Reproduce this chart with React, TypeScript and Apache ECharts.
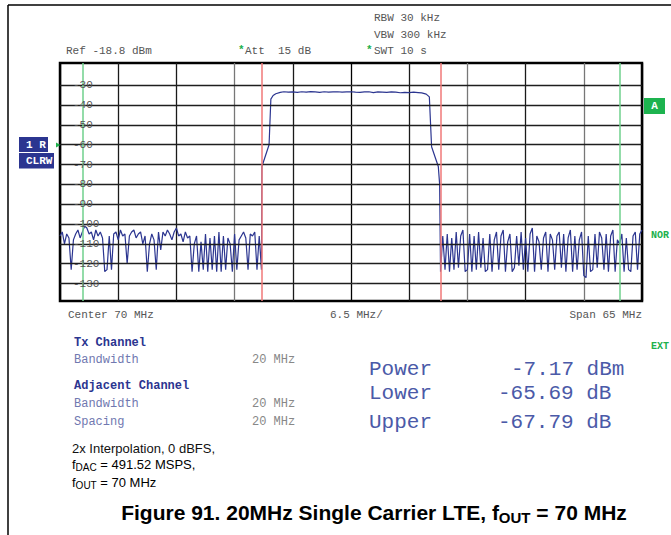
import React, { useEffect, useRef } from "react";
import * as echarts from "echarts";

// ---- axes ----
const FREQ_MIN = -32.5; // MHz offset from 70 MHz centre
const FREQ_MAX = 32.5;
const FREQ_DIV = 6.5;
const REF_LEVEL = -18.8;
const BOTTOM_LEVEL = -138.8;
const dbTicks = [-30, -40, -50, -60, -70, -80, -90, -100, -110, -120, -130];
const channelEdges = [-10, 10];
const adjacentEdges = [-30, 30];

// ---- trace ----
const noiseStep = 0.25;
const noiseLeftStart = -32.5;
const noiseLeft = [
  -106, -104, -110, -105, -107, -123, -108, -105, -103, -107, -104, -101, -102, -105, -104, -108,
  -103, -106, -104, -107, -124, -123, -106, -123, -105, -104, -108, -103, -106, -105, -120, -106,
  -104, -103, -107, -105, -104, -110, -106, -124, -110, -105, -108, -123, -104, -113, -104, -106,
  -103, -105, -108, -104, -102, -106, -105, -109, -104, -107, -106, -124, -110, -106, -124, -109,
  -123, -105, -124, -107, -123, -106, -124, -104, -124, -106, -123, -107, -110, -124, -105, -123,
  -108, -106, -104, -107, -123, -105, -106, -104, -123, -106, -123,
];
const riseLeft = [
  [-9.95, -71], [-9.15, -60], [-8.95, -37], [-8.7, -35.2], [-8.4, -34.3], [-7.9, -33.6],
];
const carrierStart = -7.5;
const carrierStep = 0.5;
const carrierTop = [
  -33.3, -33.5, -33.4, -33.6, -33.3, -33.5, -33.2, -33.4, -33.6, -33.3, -33.5, -33.4, -33.3, -33.5,
  -33.4, -33.3, -33.5, -33.6, -33.4, -33.3, -33.7, -33.4, -33.5, -33.6, -33.4, -33.5, -33.8, -33.6,
  -33.7, -33.5, -33.7,
];
const fallRight = [
  [7.9, -33.9], [8.4, -34.5], [8.75, -35.9], [9.0, -61], [9.75, -71], [9.9, -80],
];
const noiseRightStart = 10;
const noiseRight = [
  -124, -106, -123, -105, -124, -107, -123, -104, -122, -106, -103, -124, -123, -105, -124, -106,
  -123, -104, -122, -107, -124, -123, -105, -124, -108, -104, -123, -106, -103, -124, -109, -105,
  -124, -122, -106, -121, -104, -123, -107, -124, -105, -102, -124, -106, -109, -123, -107, -104,
  -124, -105, -108, -123, -106, -104, -122, -105, -124, -107, -103, -124, -106, -123, -108, -104,
  -126, -127, -106, -124, -123, -105, -122, -104, -107, -123, -105, -124, -106, -103, -124, -108,
  -110, -105, -124, -107, -123, -124, -106, -104, -123, -105, -103,
];

// ---- texts ----
const headerLeft = "Ref -18.8 dBm";
const headerAtt = "Att  15 dB";
const headerSwt = "SWT 10 s";
const headerRbw = "RBW 30 kHz";
const headerVbw = "VBW 300 kHz";
const footCenter = "Center 70 MHz";
const footDiv = "6.5 MHz/";
const footSpan = "Span 65 MHz";
const resultNames = ["Power", "Lower", "Upper"];
const resultValues = ["-7.17 dBm", "-65.69 dB", "-67.79 dB"];

function buildTrace(): number[][] {
  const pts: number[][] = [];
  noiseLeft.forEach((v, i) => pts.push([noiseLeftStart + i * noiseStep, v]));
  riseLeft.forEach((p) => pts.push(p));
  carrierTop.forEach((v, i) => pts.push([carrierStart + i * carrierStep, v]));
  fallRight.forEach((p) => pts.push(p));
  noiseRight.forEach((v, i) => pts.push([noiseRightStart + i * noiseStep, v]));
  return pts;
}

const MONO = '"Liberation Mono", "DejaVu Sans Mono", monospace';
const SANS = '"Liberation Sans", Arial, sans-serif';

function txt(x: number, y: number, text: string, opts: any = {}) {
  const align = opts.align || "left";
  return {
    type: "text",
    silent: true,
    z: 100,
    style: {
      x,
      y,
      text,
      fill: opts.fill || "#555",
      fontSize: opts.fontSize || 11,
      fontFamily: opts.fontFamily || MONO,
      fontWeight: opts.fontWeight || "normal",
      align,
      textAlign: align,
      verticalAlign: "middle",
      textVerticalAlign: "middle",
      ...(opts.extra || {}),
    },
  };
}

export default function App() {
  const ref = useRef<HTMLDivElement>(null);
  useEffect(() => {
    if (!ref.current) return;
    const chart = echarts.init(ref.current, undefined, { renderer: "svg" });

    const navy = "#2b3590";
    const green = "#20b04c";
    const subRich = (size: number, sub: number, pad: number, weight: string, lh: number) => ({
      a: { fontSize: size, fontFamily: SANS, fontWeight: weight, fill: "#000", lineHeight: lh },
      s: { fontSize: sub, fontFamily: SANS, fontWeight: weight, fill: "#000", padding: [pad, 0, 0, 0] },
    });
    const graphics: any[] = [
      { type: "line", silent: true, shape: { x1: 8, y1: 5, x2: 671, y2: 5 }, style: { stroke: "#000", lineWidth: 1.5 } },
      { type: "line", silent: true, shape: { x1: 8, y1: 5, x2: 8, y2: 535 }, style: { stroke: "#000", lineWidth: 1.5 } },
      txt(374, 18, headerRbw),
      txt(374, 35, headerVbw),
      txt(66, 51, headerLeft),
      txt(238, 50, "*", { fill: green, fontWeight: "bold" }),
      txt(245, 51, headerAtt),
      txt(366, 50, "*", { fill: green, fontWeight: "bold" }),
      txt(374, 51, headerSwt),
      txt(68, 315, footCenter),
      txt(330, 315, footDiv),
      txt(642, 315, footSpan, { align: "right" }),
      // left trace labels
      { type: "rect", silent: true, shape: { x: 19, y: 137, width: 29, height: 15 }, style: { fill: navy } },
      txt(26, 144.5, "1 RM", { fill: "#fff", fontWeight: "bold", extra: { width: 21, overflow: "truncate", ellipsis: "" } }),
      { type: "rect", silent: true, shape: { x: 19, y: 153, width: 35, height: 15.5 }, style: { fill: navy } },
      txt(26, 161, "CLRWR", { fill: "#fff", fontWeight: "bold", extra: { width: 28, overflow: "truncate", ellipsis: "" } }),
      { type: "polygon", silent: true, shape: { points: [[56, 142.5], [56, 147.5], [60.5, 145]] }, style: { fill: green } },
      // right labels
      { type: "rect", silent: true, shape: { x: 644, y: 98, width: 21, height: 16 }, style: { fill: "#1db34f" } },
      txt(654.5, 106, "A", { fill: "#fff", fontWeight: "bold", align: "center" }),
      txt(651, 235, "NOR", { fill: green, fontWeight: "bold", fontSize: 10 }),
      txt(651, 346, "EXT", { fill: green, fontWeight: "bold", fontSize: 10 }),
      // channel block
      txt(74, 343, "Tx Channel", { fill: navy, fontWeight: "bold", fontSize: 12 }),
      txt(74, 360, "Bandwidth", { fill: "#7078b0", fontSize: 12 }),
      txt(252, 360, "20 MHz", { fill: "#888", fontSize: 12 }),
      txt(74, 386, "Adjacent Channel", { fill: navy, fontWeight: "bold", fontSize: 12 }),
      txt(74, 404, "Bandwidth", { fill: "#7078b0", fontSize: 12 }),
      txt(252, 404, "20 MHz", { fill: "#888", fontSize: 12 }),
      txt(74, 422, "Spacing", { fill: "#7078b0", fontSize: 12 }),
      txt(252, 422, "20 MHz", { fill: "#888", fontSize: 12 }),
      // results
      txt(369, 369, resultNames[0], { fill: "#4b5aa8", fontSize: 21 }),
      txt(511, 369, resultValues[0], { fill: "#4b5aa8", fontSize: 21 }),
      txt(369, 393, resultNames[1], { fill: "#4b5aa8", fontSize: 21 }),
      txt(498, 393, resultValues[1], { fill: "#4b5aa8", fontSize: 21 }),
      txt(369, 422, resultNames[2], { fill: "#4b5aa8", fontSize: 21 }),
      txt(498, 422, resultValues[2], { fill: "#4b5aa8", fontSize: 21 }),
      // footnote
      txt(72, 448, "2x Interpolation, 0 dBFS,", { fill: "#111", fontFamily: SANS, fontSize: 13 }),
      txt(72, 464, "{a|f}{s|DAC}{a| = 491.52 MSPS,}", {
        fill: "#111", fontFamily: SANS, fontSize: 13,
        extra: { rich: subRich(13, 10, 7, "normal", 16) },
      }),
      txt(72, 482, "{a|f}{s|OUT}{a| = 70 MHz}", {
        fill: "#111", fontFamily: SANS, fontSize: 13,
        extra: { rich: subRich(13, 10, 7, "normal", 16) },
      }),
      // title
      txt(374, 512, "{a|Figure 91. 20MHz Single Carrier LTE, f}{s|OUT}{a| = 70 MHz}", {
        fill: "#000", fontFamily: SANS, fontSize: 21, fontWeight: "bold", align: "center",
        extra: { rich: subRich(21, 15, 10, "bold", 25) },
      }),
    ];

    chart.setOption({
      animation: false,
      backgroundColor: "#fff",
      grid: {
        left: 60,
        top: 63,
        width: 582,
        height: 238,
        show: true,
        borderColor: "#000",
        borderWidth: 2.5,
        backgroundColor: "transparent",
        outerBoundsMode: "none",
        containLabel: false,
      },
      xAxis: {
        type: "value",
        min: FREQ_MIN,
        max: FREQ_MAX,
        interval: FREQ_DIV,
        axisLine: { show: false },
        axisTick: { show: false },
        axisLabel: { show: false },
        splitLine: {
          show: true,
          lineStyle: {
            color: ["#000", "#1a1a1a", "#1a1a1a", "#777", "#1a1a1a", "#000", "#1a1a1a", "#777", "#1a1a1a", "#777", "#000"],
            width: 1.3,
          },
        },
      },
      yAxis: {
        type: "value",
        min: BOTTOM_LEVEL,
        max: REF_LEVEL,
        z: 10,
        axisLine: { show: false },
        axisTick: { show: true, inside: true, length: 6, customValues: dbTicks, lineStyle: { color: "#333", width: 1 } },
        axisLabel: {
          show: true,
          inside: true,
          customValues: dbTicks,
          margin: 13,
          color: "#555",
          fontFamily: MONO,
          fontSize: 11,
        },
        splitLine: { show: false },
      },
      graphic: graphics,
      series: [
        {
          type: "line",
          data: [],
          silent: true,
          z: 1,
          markLine: {
            silent: true,
            symbol: ["none", "none"],
            label: { show: false },
            lineStyle: { color: "#1e1e1e", width: 1.3, type: "solid" },
            data: dbTicks.map((v) => ({ yAxis: v })),
          },
        },
        {
          type: "line",
          data: [],
          silent: true,
          z: 3,
          markLine: {
            silent: true,
            symbol: ["none", "none"],
            label: { show: false },
            data: [
              ...channelEdges.map((v) => ({ xAxis: v, lineStyle: { color: "#f07878", width: 1.5, type: "solid" } })),
              ...adjacentEdges.map((v) => ({ xAxis: v, lineStyle: { color: "#6fd08c", width: 1.5, type: "solid" } })),
            ],
          },
        },
        {
          type: "line",
          data: buildTrace(),
          showSymbol: false,
          symbol: "none",
          silent: true,
          z: 2,
          lineStyle: { color: "#2b3590", width: 1.2 },
        },
      ],
    });
    return () => chart.dispose();
  }, []);
  return <div ref={ref} style={{ position: "absolute", left: 0, top: 0, width: 671, height: 535 }} />;
}
